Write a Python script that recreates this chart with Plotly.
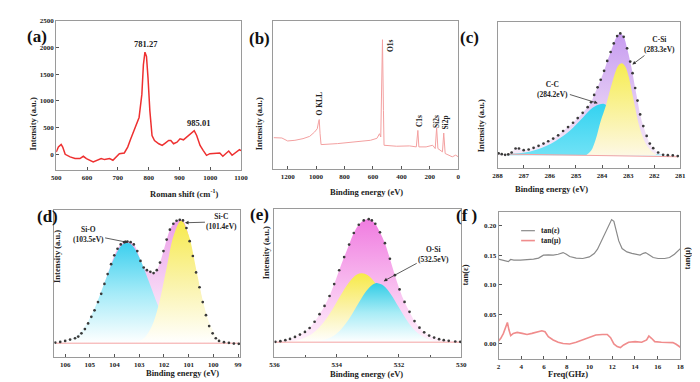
import plotly.graph_objects as go

# ---------------- (a) Raman ----------------
raman_x = [500, 507, 516, 521, 529, 545, 561, 577, 588, 598, 620, 636, 646, 657, 673, 684, 694, 705, 721,
           732, 742, 758, 769, 778, 783, 788, 793, 798, 804, 811, 819, 833, 844, 854, 865, 872, 881, 892,
           902, 913, 924, 934, 948, 956, 967, 977, 988, 999, 1015, 1031, 1041, 1052, 1060, 1071, 1084, 1095, 1100]
raman_y = [43, 136, 185, 136, 0, -49, -80, -80, -37, -80, -142, -111, -80, -99, -80, -111, -49, 12, 25,
           136, 290, 537, 691, 1123, 1679, 1914, 1833, 1432, 815, 352, 259, 198, 167, 210, 259, 259, 198, 228,
           290, 272, 321, 383, 444, 352, 167, 74, -19, 12, 12, 25, -37, 12, 62, -19, 43, 86, 70]
raman_labels = ["781.27", "985.01"]
raman_label_x = [793, 961]
raman_label_y = [2060, 590]

# ---------------- (b) XPS survey ----------------
surv_x = [1299, 1241, 1200, 1149, 1092, 1045, 1011, 992, 983, 978, 972, 965, 849, 734, 618, 572, 554, 545,
          538, 533, 526, 522, 434, 342, 295, 284, 277, 226, 180, 162, 152, 143, 111, 102, 92, 42, 18, 0]
surv_y = [96, 95, 86, 88, 93, 100, 113, 123, 143, 151, 108, 75, 78, 83, 88, 94, 108, 98,
          388, 393, 178, 73, 70, 71, 68, 118, 68, 68, 73, 63, 126, 63, 53, 110, 48, 38, 43, 38]
surv_labels = ["O KLL", "O1s", "C1s", "Si2s", "Si2p"]
surv_label_x = [976, 475, 277, 148, 88]
surv_label_y = [198, 376, 146, 144, 141]

# ---------------- (c) C 1s ----------------
c_x = [287.96, 287.84, 287.71, 287.59, 287.46, 287.31, 287.18, 287.00, 286.81, 286.62, 286.43, 286.24,
       286.06, 285.87, 285.68, 285.49, 285.30, 285.11, 284.93, 284.74, 284.55, 284.42, 284.30, 284.17,
       284.05, 283.92, 283.80, 283.67, 283.55, 283.42, 283.30, 283.17, 283.04, 282.92, 282.83, 282.73,
       282.64, 282.54, 282.42, 282.29, 282.17, 282.04, 281.85, 281.66, 281.48, 281.29, 281.10]
c_y = [5, 3, 1, 2, 8, 20, 20, 15, 17, 22, 28, 35, 42, 50, 60, 73, 85, 98, 112, 128, 145, 160, 182, 205,
       228, 255, 285, 312, 338, 360, 368, 358, 323, 283, 248, 203, 165, 123, 88, 58, 35, 21, 8, 1, 0, -1, -3]
c_cc_x = [287.62, 286.75, 286.12, 285.49, 285.11, 284.74, 284.36, 284.11, 283.92, 283.75, 283.60, 283.40,
          283.20, 283.00, 282.80, 282.50, 282.20, 281.90, 281.50]
c_cc_y = [3, 11, 28, 58, 83, 113, 143, 153, 155, 145, 125, 95, 70, 48, 30, 14, 6, 3, 0]
c_csi_x = [284.61, 284.42, 284.24, 284.05, 283.86, 283.67, 283.48, 283.36, 283.23, 283.11, 282.98, 282.86,
           282.73, 282.61, 282.48, 282.35, 282.23, 282.04, 281.85, 281.60]
c_csi_y = [0, 13, 48, 103, 148, 203, 253, 273, 278, 268, 238, 193, 143, 98, 63, 38, 23, 8, 0, 0]
c_base_x = [287.6, 281.1]
c_base_y = [3, -5]

# ---------------- (d) Si 2p ----------------
d_x = [106.40, 106.20, 106.00, 105.80, 105.60, 105.47, 105.34, 105.20, 105.07, 104.94, 104.81, 104.67,
       104.54, 104.41, 104.28, 104.14, 104.01, 103.88, 103.75, 103.61, 103.48, 103.35, 103.22, 103.08,
       102.95, 102.82, 102.69, 102.55, 102.42, 102.29, 102.16, 102.02, 101.89, 101.76, 101.62, 101.49,
       101.36, 101.23, 101.09, 100.96, 100.83, 100.70, 100.56, 100.43, 100.30, 100.17, 100.03, 99.90,
       99.77, 99.57, 99.37, 99.17, 98.97]
d_y = [2, 4, 7, 11, 15, 20, 30, 43, 60, 80, 100, 125, 150, 180, 210, 240, 267, 287, 300, 307, 309, 307,
       300, 280, 250, 230, 222, 217, 213, 222, 245, 280, 315, 345, 363, 372, 375, 373, 350, 310, 265, 215,
       170, 125, 85, 52, 30, 15, 7, 3, 1, -1, -2]
d_sio_x = [106.4, 106.0, 105.6, 105.2, 104.8, 104.4, 104.0, 103.7, 103.5, 103.3, 103.0, 102.6, 102.2,
           101.8, 101.4, 101.0, 100.6, 100.2, 99.0]
d_sio_y = [2, 6, 20, 51, 107, 185, 261, 298, 305, 298, 261, 185, 107, 51, 20, 6, 2, 0, 0]
d_sic_x = [103.5, 103.1, 102.8, 102.5, 102.2, 101.9, 101.6, 101.3, 101.0, 100.7, 100.4, 100.1, 99.8,
           99.5, 99.2, 98.9]
d_sic_y = [0, 4, 16, 50, 121, 226, 329, 373, 329, 226, 121, 50, 16, 4, 0, 0]

# ---------------- (e) O 1s ----------------
e_x = [535.97, 535.81, 535.65, 535.50, 535.34, 535.18, 535.02, 534.87, 534.71, 534.55, 534.39, 534.23,
       534.08, 533.92, 533.76, 533.60, 533.45, 533.29, 533.13, 532.97, 532.87, 532.76, 532.61, 532.45,
       532.29, 532.13, 531.98, 531.82, 531.66, 531.50, 531.34, 531.19, 531.03, 530.87, 530.71, 530.56,
       530.40, 530.19, 530.03]
e_y = [1, 3, 6, 10, 16, 23, 31, 43, 62, 85, 110, 140, 176, 218, 258, 296, 331, 356, 369, 373, 369, 359,
       333, 300, 253, 203, 160, 122, 92, 64, 44, 30, 20, 14, 9, 6, 4, 2, 1]
e_y1_x = [536.0, 535.6, 535.2, 534.8, 534.5, 534.2, 533.9, 533.6, 533.35, 533.19, 533.0, 532.75, 532.5,
          532.2, 531.9, 531.6, 531.2, 530.8, 530.3, 530.0]
e_y1_y = [0.3, 1.8, 7.6, 25, 51, 90, 138, 182, 205, 209, 203, 178, 141, 93, 53, 26, 8, 2, 0.2, 0]
e_osi_x = [535.0, 534.6, 534.2, 533.9, 533.6, 533.3, 533.05, 532.85, 532.69, 532.5, 532.25, 532.0, 531.7,
           531.4, 531.0, 530.6, 530.0]
e_osi_y = [0.5, 3, 14, 35, 71, 118, 155, 174, 179, 172, 144, 105, 60, 28, 7, 1.4, 0]

# ---------------- (f) loss tangents ----------------
f_eps_x = [2.0, 2.35, 2.63, 2.86, 3.07, 3.35, 3.93, 4.51, 5.08, 5.52, 5.95, 6.38, 6.81, 7.25, 7.68, 7.97,
           8.26, 8.83, 9.41, 9.99, 10.42, 10.71, 10.99, 11.20, 11.43, 11.72, 11.95, 12.15, 12.35, 12.58,
           12.87, 13.30, 13.73, 14.17, 14.45, 14.74, 14.94, 15.17, 15.61, 16.04, 16.62, 17.05, 17.48, 18.0]
f_eps_y = [0.1432, 0.1415, 0.140, 0.139, 0.1426, 0.1415, 0.1415, 0.142, 0.1432, 0.145, 0.150, 0.1504,
           0.150, 0.1515, 0.1543, 0.1515, 0.1476, 0.145, 0.1443, 0.147, 0.1526, 0.160, 0.171, 0.182,
           0.1905, 0.2016, 0.210, 0.207, 0.193, 0.174, 0.161, 0.1554, 0.153, 0.1515, 0.150, 0.153, 0.1543,
           0.1515, 0.146, 0.1443, 0.1443, 0.146, 0.1515, 0.161]
f_mu_x = [2.0, 2.20, 2.43, 2.63, 2.78, 2.92, 3.07, 3.30, 3.64, 4.08, 4.51, 4.94, 5.37, 5.81, 6.09, 6.38,
          6.81, 7.25, 7.68, 8.26, 8.83, 9.41, 9.99, 10.56, 11.14, 11.57, 11.86, 12.15, 12.44, 12.72, 13.01,
          13.45, 14.02, 14.60, 15.03, 15.23, 15.46, 15.75, 16.33, 16.90, 17.34, 17.63, 18.0]
f_mu_y = [0.005, 0.0095, 0.0178, 0.029, 0.0362, 0.0234, 0.014, 0.0178, 0.0195, 0.0178, 0.016, 0.0178,
          0.0206, 0.0223, 0.0206, 0.0123, 0.0067, 0.0028, 0.0006, 0.0, 0.0028, 0.0067, 0.0117, 0.015,
          0.016, 0.016, 0.0106, 0.0, -0.0045, -0.0061, -0.0017, 0.0028, 0.0039, 0.0028, 0.0067, 0.0134,
          0.0095, 0.0039, 0.0028, 0.0028, 0.0022, -0.0006, -0.0056]
f_names = ["tan(ε)", "tan(μ)"]

W, H = 700, 382
FONT = "Liberation Serif"
FRAME = "#9a9a9a"


def px(x):
    return x / W


def py(y):
    return 1 - y / H


fig = go.Figure()

# panel domains (pixels): left, right, top, bottom
panels = {
    "": (44, 232, 9, 160),
    "2": (265, 453, 9, 159),
    "3": (493, 679, 10, 158),
    "4": (42, 231, 200, 349),
    "5": (266, 456, 199, 349),
    "6": (494, 679, 202, 351),
}


def axes(i):
    return ("x" + i, "y" + i)


def grad(c0, c1, mid=None):
    cs = [[0, c0], [1, c1]] if mid is None else [[0, c0], [0.5, mid], [1, c1]]
    return dict(type="vertical", colorscale=cs)


def fillarea(i, xs, ys, g):
    xa, ya = axes(i)
    fig.add_trace(go.Scatter(x=xs, y=ys, mode="lines", line=dict(width=0, shape="spline", smoothing=1),
                             fill="tozeroy", fillgradient=g, xaxis=xa, yaxis=ya, showlegend=False,
                             hoverinfo="skip"))


def dots(i, xs, ys):
    xa, ya = axes(i)
    fig.add_trace(go.Scatter(x=xs, y=ys, mode="markers", marker=dict(size=2.7, color="#3a3a3a"),
                             xaxis=xa, yaxis=ya, showlegend=False))


def baseline(i, xs, ys):
    xa, ya = axes(i)
    fig.add_trace(go.Scatter(x=xs, y=ys, mode="lines", line=dict(width=1, color="#f4a3a3"),
                             xaxis=xa, yaxis=ya, showlegend=False))


# (a)
fig.add_trace(go.Scatter(x=raman_x, y=raman_y, mode="lines", line=dict(color="#ee3030", width=1.5),
                         xaxis="x", yaxis="y", showlegend=False))
# (b)
fig.add_trace(go.Scatter(x=surv_x, y=surv_y, mode="lines", line=dict(color="#f3a0a0", width=1),
                         xaxis="x2", yaxis="y2", showlegend=False))
# (c)
fillarea("3", c_x, c_y, grad("#f8ecf8", "#c79cf0"))
fillarea("3", c_cc_x, c_cc_y, grad("#6fe2f6", "#34d2f0"))
fillarea("3", c_csi_x, c_csi_y, grad("#fdf8e4", "#f6ec50"))
baseline("3", c_base_x, c_base_y)
dots("3", c_x, c_y)
# (d)
fillarea("4", d_x, d_y, grad("#ffffff", "#ec9fe8"))
fillarea("4", d_sio_x, d_sio_y, grad("#ffffff", "#3ccfee", "#a5ebf8"))
fillarea("4", d_sic_x, d_sic_y, grad("#ffffff", "#f7ea4c", "#faf3a8"))
baseline("4", [106.4, 98.95], [0, 0])
dots("4", d_x, d_y)
# (e)
fillarea("5", e_x, e_y, grad("#fff2fc", "#f07ce0"))
fillarea("5", e_y1_x, e_y1_y, grad("#ffffff", "#f7ea48", "#fbf2a8"))
fillarea("5", e_osi_x, e_osi_y, grad("#ffffff", "#33cde6", "#a8ecf6"))
baseline("5", [536, 530], [0, 0])
dots("5", e_x, e_y)
# (f)
fig.add_trace(go.Scatter(x=f_eps_x, y=f_eps_y, mode="lines", name=f_names[0],
                         line=dict(color="#8a8a8a", width=1.2), xaxis="x6", yaxis="y6", showlegend=False))
fig.add_trace(go.Scatter(x=f_mu_x, y=f_mu_y, mode="lines", name=f_names[1],
                         line=dict(color="#f08c8c", width=1.6), xaxis="x6", yaxis="y6", showlegend=False))

tickfont = dict(family=FONT, size=7, color="#222", weight="bold")
common = dict(showline=True, mirror=True, linecolor=FRAME, linewidth=1, showgrid=False, zeroline=False,
              ticks="inside", ticklen=3, tickcolor="#555", tickfont=tickfont)

xspec = {
    "": dict(range=[500, 1100], tickvals=[500, 600, 700, 800, 900, 1000, 1100]),
    "2": dict(range=[1300, 0], tickvals=[1200, 1000, 800, 600, 400, 200, 0]),
    "3": dict(range=[288, 281], tickvals=[288, 287, 286, 285, 284, 283, 282, 281]),
    "4": dict(range=[106.44, 98.92], tickvals=[106, 105, 104, 103, 102, 101, 100, 99]),
    "5": dict(range=[536, 530], tickvals=[536, 534, 532, 530],
              minor=dict(dtick=1, ticks="inside", ticklen=2, tickcolor="#555")),
    "6": dict(range=[2, 18], tickvals=[2, 4, 6, 8, 10, 12, 14, 16, 18]),
}
yspec = {
    "": dict(range=[-300, 2500], tickvals=[0, 500, 1000, 1500, 2000, 2500]),
    "2": dict(range=[0, 450], showticklabels=False, ticks=""),
    "3": dict(range=[-40, 403], showticklabels=False, ticks=""),
    "4": dict(range=[-43, 405], showticklabels=False, ticks=""),
    "5": dict(range=[-46, 404], showticklabels=False, ticks=""),
    "6": dict(range=[-0.026, 0.223], tickvals=[0, 0.05, 0.1, 0.15, 0.2], tickformat=".2f"),
}

layout = dict(width=W, height=H, margin=dict(l=0, r=0, t=0, b=0), autosize=False,
              paper_bgcolor="white", plot_bgcolor="white", showlegend=False,
              font=dict(family=FONT, color="#222"))
for i, (l, r, t, b) in panels.items():
    xd = dict(common, domain=[px(l), px(r)], anchor="y" + i)
    xd.update(xspec[i])
    yd = dict(common, domain=[py(b), py(t)], anchor="x" + i)
    yd.update(yspec[i])
    layout["xaxis" + i] = xd
    layout["yaxis" + i] = yd
fig.update_layout(**layout)

ann = []
bold = lambda s: "<b>" + s + "</b>"
# panel letters
for txt, x, y in [("(a)", 12, 13), ("(b)", 251, 15), ("(c)", 476, 14), ("(d)", 22, 207), ("(e)", 251, 205),
                  ("(f )", 474, 206)]:
    ann.append(dict(text=bold(txt), x=px(x), y=py(y), xref="paper", yref="paper", showarrow=False,
                    font=dict(family=FONT, size=17, color="#111")))
# axis titles
afont = dict(family=FONT, size=8.5, color="#222")
for txt, x, y, ang in [("Roman shift (cm<sup>-1</sup>)", 137, 183, 0), ("Intensity (a.u.)", 13, 84, -90),
                       ("Binding energy (eV)", 360, 182, 0), ("Intensity (a.u.)", 250, 84, -90),
                       ("Binding energy (eV)", 587, 179, 0), ("Intensity (a.u.)", 483, 86, -90),
                       ("Binding energy (eV)", 133, 372, 0), ("Intensity (a.u.)", 37, 276, -90),
                       ("Binding energy (eV)", 360, 373, 0), ("Intensity (a.u.)", 257, 272, -90),
                       ("Freq(GHz)", 587, 373, 0), ("tan(ε)", 467, 278, -90), ("tan(μ)", 693, 262, -90)]:
    ann.append(dict(text=bold(txt), x=px(x), y=py(y), xref="paper", yref="paper", showarrow=False,
                    textangle=ang, font=afont))
# (a) peak labels
for t, x, y in zip(raman_labels, raman_label_x, raman_label_y):
    ann.append(dict(text=bold(t), x=x, y=y, xref="x", yref="y", showarrow=False,
                    font=dict(family=FONT, size=8.5, color="#222")))
# (b) peak labels
for t, x, y in zip(surv_labels, surv_label_x, surv_label_y):
    ann.append(dict(text=bold(t), x=x, y=y, xref="x2", yref="y2", showarrow=False, textangle=-90,
                    font=dict(family=FONT, size=7.5, color="#222")))
lfont = dict(family=FONT, size=7.5, color="#222")
# fit labels with arrows (head at feature, text at tail)
for t, x, y, ax, ay, i in [("C-Si<br>(283.3eV)", 282.84, 274, 27, -20, "3"),
                           ("C-C<br>(284.2eV)", 284.16, 157, -45, -14, "3"),
                           ("Si-O<br>(103.5eV)", 103.45, 306, -40, -8, "4"),
                           ("Si-C<br>(101.4eV)", 101.15, 366, 37, -1, "4"),
                           ("O-Si<br>(532.5eV)", 532.49, 185, 50, -27, "5")]:
    ann.append(dict(text=bold(t), x=x, y=y, xref="x" + i, yref="y" + i, showarrow=True, ax=ax, ay=ay,
                    arrowhead=2, arrowsize=0.9, arrowwidth=0.8, arrowcolor="#333", font=lfont))
# (f) legend
shapes = []
for name, color, y, w in [(f_names[0], "#8a8a8a", 221, 1.2), (f_names[1], "#f08c8c", 231, 1.6)]:
    shapes.append(dict(type="line", xref="paper", yref="paper", x0=px(517), x1=px(531), y0=py(y), y1=py(y),
                       line=dict(color=color, width=w)))
    ann.append(dict(text=bold(name), x=px(535), y=py(y), xref="paper", yref="paper", showarrow=False,
                    xanchor="left", font=dict(family=FONT, size=7.5, color="#222")))
fig.update_layout(annotations=ann, shapes=shapes)

fig.write_html("out.html")
